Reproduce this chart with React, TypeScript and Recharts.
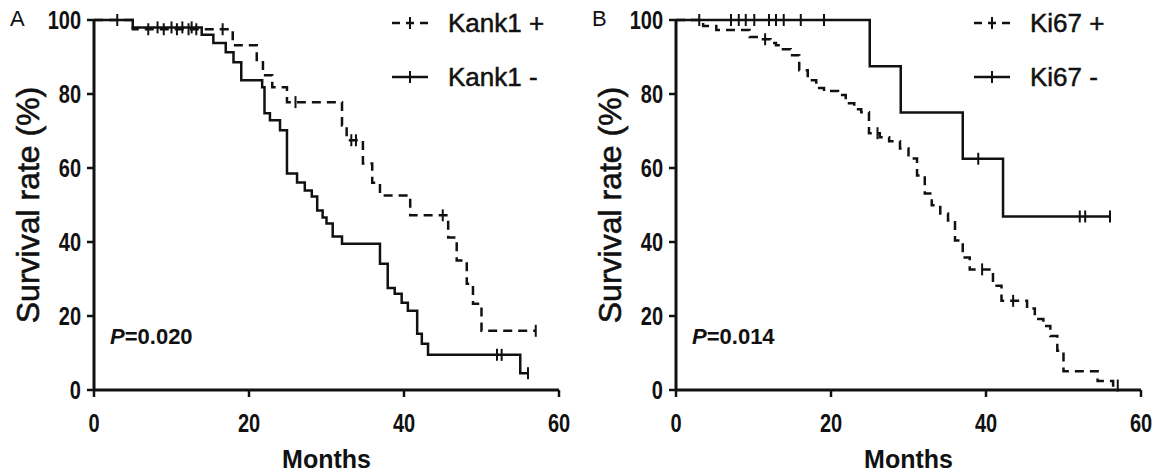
import { LineChart, Line, XAxis, YAxis, Legend } from "recharts"

// Panel A: Kank1 expression. [month, survival %] at each drop
const kankPosEvents = [
  [0, 100], [5, 97.5], [17.9, 93.2], [21, 89.2], [21.8, 85.1], [23, 81.8], [24.9, 77.8],
  [32, 71.5], [32.6, 67.5], [34.7, 61.2], [35.9, 56], [36.9, 52.6], [40.8, 47.2],
  [45.7, 41.2], [46.8, 35], [48.1, 28.7], [48.9, 23.3], [50, 16],
]
const kankPosCensored = [7, 9, 10.7, 12.2, 13.2, 16.6, 26, 33.2, 33.8, 45, 57]

const kankNegEvents = [
  [0, 100], [5, 98], [13.9, 96], [15.4, 93.8], [17, 91.3], [18, 88.6], [19, 83.7],
  [21.7, 81.8], [22, 74.8], [22.7, 72.9], [24, 70.2], [24.9, 58.5], [26.2, 56.1],
  [27.2, 53.9], [28.1, 52.3], [28.8, 48.5], [29.5, 46.6], [30, 45], [30.8, 41.5],
  [32, 39.5], [36.9, 34.1], [37.9, 27.6], [38.8, 26], [39.7, 23.6], [40.5, 21.4],
  [41.7, 15.2], [42.3, 12.5], [43.1, 9.5], [55, 4.5],
]
const kankNegCensored = [3, 8.2, 10, 11.4, 12.6, 52, 52.6, 56]

// Panel B: Ki67 expression
const kiPosEvents = [
  [0, 100], [3.5, 98.4], [5.2, 97.3], [9.5, 95.4], [11, 94.8], [12.2, 93.8], [12.9, 93.2],
  [13.8, 92.1], [14.8, 90.5], [15.9, 86.4], [17, 83.7], [18.1, 81.6], [19.1, 80.8],
  [20.9, 79.7], [21.9, 77.5], [23, 75.9], [23.9, 75.1], [24.9, 69.4], [26.3, 68.3],
  [27.5, 67.2], [28.9, 65.3], [30, 62.6], [31.1, 58], [32.1, 53.1], [33, 49.9],
  [34.1, 47.7], [35.1, 45.8], [36, 40.4], [37, 35.8], [37.9, 32.6], [40.9, 28.2],
  [42, 24.1], [45.3, 22], [46.3, 19.2], [47.4, 17.3], [48.3, 14.6], [49.2, 10.6],
  [50, 5.1], [54.4, 2.4], [56.4, 1.2],
]
const kiPosCensored = [3, 11.5, 26, 39.5, 43.5, 57]

const kiNegEvents = [[0, 100], [25, 87.5], [29, 75], [37, 62.5], [42.2, 46.9]]
const kiNegCensored = [7.1, 8.1, 9, 10.1, 12, 12.9, 13.9, 16.1, 19.1, 39, 52.1, 52.8, 56]

const monthTicks = [0, 20, 40, 60]
const rateTicks = [0, 20, 40, 60, 80, 100]

const FONT = "'Liberation Sans', Arial, sans-serif"
const INK = "#111"

// merge drops and censored times into one step series
function buildCurve(events: number[][], censored: number[]) {
  const rows = events.map(([t, s]) => ({ t, s, censored: false }))
  censored.forEach((t) => {
    const before = events.filter(([et]) => et <= t)
    rows.push({ t, s: before[before.length - 1][1], censored: true })
  })
  return rows.sort((a, b) => a.t - b.t)
}

function CensorDot(props: any) {
  const { cx, cy, payload, index } = props
  if (!payload || !payload.censored) return <g key={`d${index}`} />
  return <line key={`d${index}`} x1={cx} x2={cx} y1={cy - 6} y2={cy + 6} stroke={INK} strokeWidth={2} />
}

// bold, horizontally squeezed tick labels (the original uses a narrow face)
function NarrowTick(props: any) {
  const { x, y, payload, textAnchor, dy } = props
  return (
    <g transform={`translate(${x},${y}) scale(0.8,1)`}>
      <text textAnchor={textAnchor} dy={dy} fontFamily={FONT} fontSize={25} fontWeight="bold" fill={INK}>
        {payload.value}
      </text>
    </g>
  )
}

function YTitle(props: any) {
  const { viewBox } = props
  const cx = viewBox.x + 4
  const cy = viewBox.y + viewBox.height / 2
  return (
    <text x={cx} y={cy} transform={`rotate(-90 ${cx} ${cy})`} textAnchor="middle" dominantBaseline="central"
      fontFamily={FONT} fontSize={32} fill={INK} stroke={INK} strokeWidth={0.6}>
      Survival rate (%)
    </text>
  )
}

function XTitle(props: any) {
  const { viewBox } = props
  return (
    <text x={viewBox.x + viewBox.width / 2} y={viewBox.y + 78} textAnchor="middle"
      fontFamily={FONT} fontSize={25} fontWeight="bold" fill={INK}>
      Months
    </text>
  )
}

function LegendSample({ dashed }: { dashed: boolean }) {
  return (
    <svg width={36} height={14} style={{ display: "block" }}>
      <line x1={0} x2={36} y1={7} y2={7} stroke={INK} strokeWidth={2.5} strokeDasharray={dashed ? "8 6" : undefined} />
      <line x1={18} x2={18} y1={1} y2={13} stroke={INK} strokeWidth={2} />
    </svg>
  )
}

function KmLegend({ names }: { names: string[] }) {
  return (
    <div style={{ fontFamily: FONT, fontSize: 26, color: INK, WebkitTextStroke: "0.5px #111" }}>
      {names.map((name, i) => (
        <div key={name} style={{ display: "flex", alignItems: "center", height: 30, marginBottom: i === 0 ? 24 : 0 }}>
          <LegendSample dashed={i === 0} />
          <span style={{ marginLeft: 20, whiteSpace: "nowrap" }}>{name}</span>
        </div>
      ))}
    </div>
  )
}

interface PanelProps {
  letter: string
  posName: string
  negName: string
  pos: { t: number; s: number; censored: boolean }[]
  neg: { t: number; s: number; censored: boolean }[]
  pValue: string
  left: number
}

function KmPanel({ letter, posName, negName, pos, neg, pValue, left }: PanelProps) {
  return (
    <div style={{ position: "absolute", left, top: 0, width: 574, height: 476 }}>
      <LineChart width={574} height={476} margin={{ top: 20, right: 15, left: 24, bottom: 26 }}>
        <XAxis type="number" dataKey="t" domain={[0, 60]} ticks={monthTicks} allowDataOverflow
          axisLine={{ stroke: INK, strokeWidth: 3 }} tickLine={{ stroke: INK, strokeWidth: 2.5 }}
          tickSize={7} tickMargin={17} height={60} tick={<NarrowTick dy="0.71em" />} label={<XTitle />} />
        <YAxis type="number" domain={[0, 100]} ticks={rateTicks} width={70}
          axisLine={{ stroke: INK, strokeWidth: 3 }} tickLine={{ stroke: INK, strokeWidth: 2.5 }}
          tickSize={7} tickMargin={6} tick={<NarrowTick dy="0.36em" />} label={<YTitle />} />
        <Legend layout="vertical" align="center" verticalAlign="middle"
          wrapperStyle={{ left: 392, top: 8, width: 180 }}
          content={() => <KmLegend names={[posName, negName]} />} />
        <Line data={pos} dataKey="s" type="stepAfter" stroke={INK} strokeWidth={2.5} strokeDasharray="9 6"
          dot={CensorDot} activeDot={false} isAnimationActive={false} />
        <Line data={neg} dataKey="s" type="stepAfter" stroke={INK} strokeWidth={2.5}
          dot={CensorDot} activeDot={false} isAnimationActive={false} />
      </LineChart>
      <div style={{ position: "absolute", left: 10, top: 6, fontFamily: FONT, fontSize: 22, color: INK }}>{letter}</div>
      <div style={{ position: "absolute", left: 110, top: 324, fontFamily: FONT, fontSize: 22, color: INK, fontWeight: "bold" }}>
        <i>P</i>={pValue}
      </div>
    </div>
  )
}

export default function App() {
  return (
    <div style={{ position: "absolute", left: 0, top: 0, width: 1156, height: 476, background: "#fff", overflow: "hidden" }}>
      <KmPanel letter="A" posName="Kank1 +" negName="Kank1 -" pValue="0.020" left={0}
        pos={buildCurve(kankPosEvents, kankPosCensored)} neg={buildCurve(kankNegEvents, kankNegCensored)} />
      <KmPanel letter="B" posName="Ki67 +" negName="Ki67 -" pValue="0.014" left={582}
        pos={buildCurve(kiPosEvents, kiPosCensored)} neg={buildCurve(kiNegEvents, kiNegCensored)} />
    </div>
  )
}
